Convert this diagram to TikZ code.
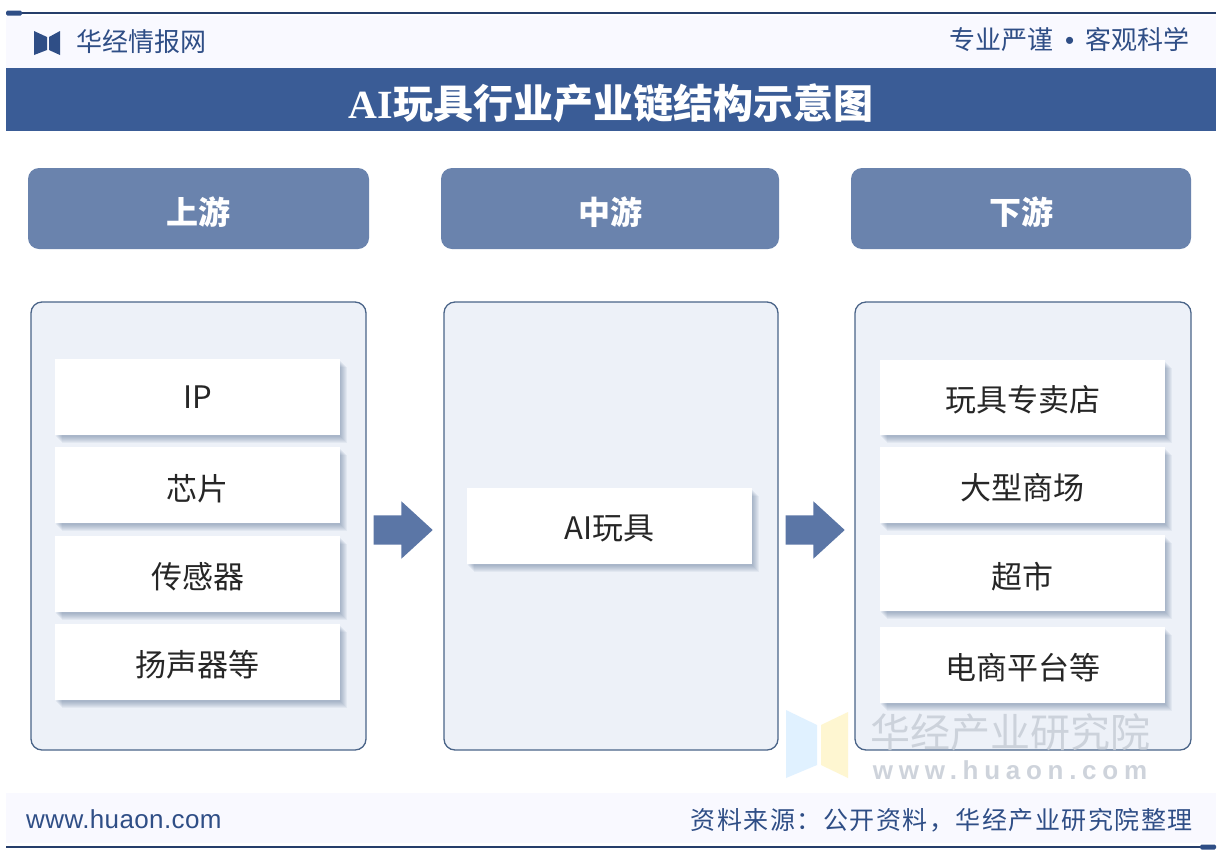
\documentclass[tikz,border=0pt]{standalone}
\usepackage{fontspec}
\setmainfont{Noto Sans CJK SC}
\newfontfamily\latinfont{Liberation Sans}
\newfontfamily\serifbf{Liberation Serif}
\usepackage{tikz}
\usetikzlibrary{arrows.meta,positioning,calc,fit,shapes.arrows,shadows}
\definecolor{bandblue}{HTML}{3A5C96}
\definecolor{headblue}{HTML}{6A83AD}
\definecolor{arrowblue}{HTML}{5B76A6}
\definecolor{panelfill}{HTML}{EDF1F8}
\definecolor{panelline}{HTML}{4A6488}
\definecolor{inkblue}{HTML}{2F4E86}
\definecolor{markgrey}{HTML}{C9CFD8}
\tikzset{softlayer/.style 2 args={general shadow={shadow xshift=#1,shadow yshift=#2,fill=panelline,opacity=.07}}}

\begin{document}
\begin{tikzpicture}[x=1pt,y=-1pt,node distance=12pt,
headbox/.style={fill=headblue,rounded corners=11pt,minimum height=81pt,text=white,font=\fontsize{32}{34}\selectfont\bfseries,inner sep=0pt,text height=36pt,text depth=4pt},
panel/.style={draw=panelline,line width=1.3pt,fill=panelfill,rounded corners=11pt,minimum height=448pt,inner sep=0pt},
itembox/.style={fill=white,minimum width=285pt,minimum height=76pt,inner sep=0pt,font=\fontsize{31}{33}\selectfont,text=black!85,text height=33pt,text depth=3.5pt,
  softlayer={7pt}{-8pt},softlayer={6pt}{-7pt},softlayer={5pt}{-6pt},softlayer={4pt}{-5pt},softlayer={3pt}{-4pt},softlayer={2pt}{-3pt},softlayer={1pt}{-2pt}},
flowarr/.style={single arrow,anchor=tip,fill=arrowblue,minimum width=57pt,minimum height=59pt,inner sep=14.5pt,single arrow head extend=14pt,single arrow tip angle=85},
rulebar/.style={line width=1.6pt,draw=inkblue!80!black},
endcap/.style={fill=inkblue,rounded corners=1.5pt,minimum width=16pt,minimum height=5pt,inner sep=0pt}]
\useasboundingbox (0,0) rectangle (1222,852);
\fill[white] (0,0) rectangle (1222,852);
\fill[blue!40!white,opacity=.06] (6,16) rectangle (1216,68);
\fill[blue!40!white,opacity=.06] (6,793) rectangle (1216,843);
% top and bottom rules
\node[endcap] (capl) at (14,13) {};
\node[endcap] (capr) at (1208,847) {};
\coordinate (topr) at (1216,13);
\coordinate (botl) at (6,847);
\draw[rulebar] (capl)--(topr);
\draw[rulebar] (botl)--(capr);
% logo and header
\fill[inkblue] (34,31)--(47,37)--(47,50)--(34,55)--cycle;
\fill[inkblue] (60,31)--(49,37)--(49,50)--(60,55)--cycle;
\node[anchor=west,inner sep=0pt,text=inkblue,font=\fontsize{26}{28}\selectfont] (brand) at (76,42) {华经情报网};
\node[anchor=east,inner sep=0pt,text=inkblue,font=\fontsize{26}{28}\selectfont] (motto) at (1190,40) {专业严谨{\latinfont\hspace{11.5pt}•\hspace{11.5pt}}客观科学};
\node[fill=bandblue,minimum width=1210pt,minimum height=63pt,inner sep=0pt,text=white,font=\fontsize{40}{42}\selectfont\bfseries,text height=42pt,text depth=4pt] (title) at (611,99.5) {{\serifbf AI}玩具行业产业链结构示意图};
% stage heads
\node[headbox,minimum width=341pt] (uphead) at (198.5,208.5) {上游};
\node[headbox,minimum width=338pt] (midhead) at (610,208.5) {中游};
\node[headbox,minimum width=340pt] (downhead) at (1021,208.5) {下游};
% panels
\node[panel,minimum width=335pt] (uppanel) at (198.5,526) {};
\node[panel,minimum width=334pt] (midpanel) at (611,526) {};
\node[panel,minimum width=336pt] (downpanel) at (1023,526) {};
% left column
\node[itembox,text height=23pt,text depth=0pt] (ip) at (197.5,397) {IP};
\node[itembox,below=of ip] (chip) {芯片};
\node[itembox,below=of chip] (sensor) {传感器};
\node[itembox,below=of sensor] (speaker) {扬声器等};
% middle
\node[itembox,text height=31pt] (aitoy) at (609.5,526) {AI玩具};
% right column
\node[itembox,minimum height=75pt] (store) at (1022.5,397) {玩具专卖店};
\node[itembox,below=of store] (mall) {大型商场};
\node[itembox,below=of mall] (market) {超市};
\node[itembox,below=15pt of market] (online) {电商平台等};
% block arrows
\node[flowarr] (arrone) at (433,530) {};
\node[flowarr] (arrtwo) at (845,530) {};
% footer
\node[anchor=west,inner sep=0pt,text=inkblue,font=\latinfont\fontsize{26}{28}\selectfont\addfontfeatures{LetterSpace=1.5}] (site) at (26,819) {www.huaon.com};
\node[anchor=east,inner sep=0pt,text=inkblue,font=\fontsize{25}{27}\selectfont\addfontfeatures{LetterSpace=6}] (source) at (1193,820) {资料来源：公开资料，华经产业研究院整理};
% watermark
\fill[blue!45!cyan!60!white,opacity=.2] (786,710)--(817,725)--(817,765)--(786,778)--cycle;
\fill[yellow!70!orange,opacity=.18] (848,712)--(821,725)--(821,765)--(848,778)--cycle;
\node[anchor=center,inner sep=0pt,text=markgrey,opacity=.9,font=\fontsize{40}{42}\selectfont] (markname) at (1010,732) {华经产业研究院};
\node[anchor=center,inner sep=0pt,text=markgrey,opacity=.9,font=\latinfont\bfseries\fontsize{26}{28}\selectfont\addfontfeatures{LetterSpace=22}] (markurl) at (1010,770) {www.huaon.com};
\end{tikzpicture}
\end{document}
